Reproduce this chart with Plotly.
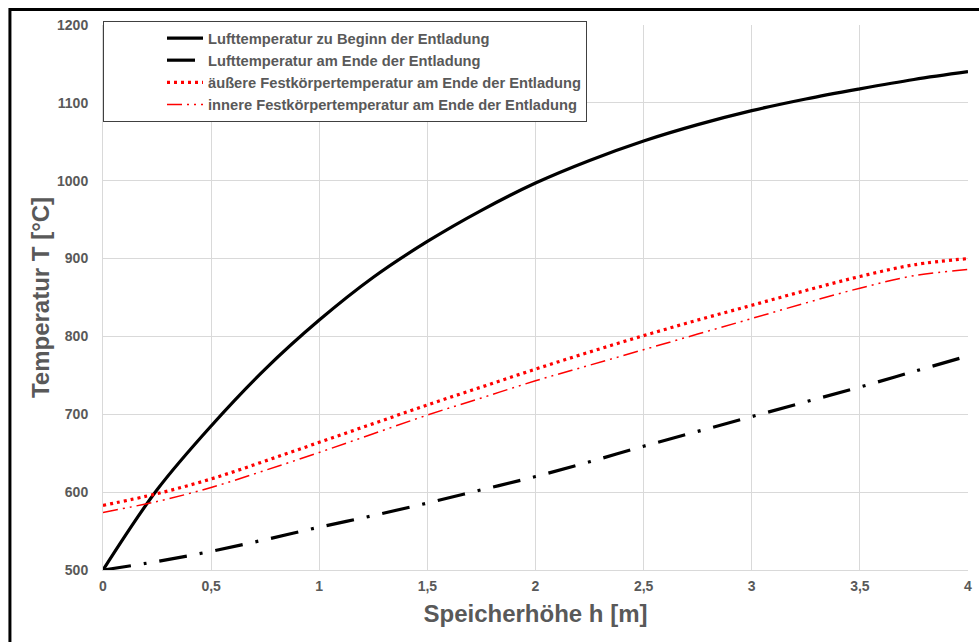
import plotly.graph_objects as go

# Data
h = [0, 0.25, 0.5, 0.75, 1.0, 1.25, 1.5, 1.75, 2.0, 2.25, 2.5, 2.75, 3.0, 3.25, 3.5, 3.75, 4.0]
luft_beginn = [500, 603, 685, 758, 821, 876, 922, 962, 997, 1026, 1051, 1072, 1090, 1105, 1118, 1130, 1140]
luft_ende = [500, 511, 524, 539, 555, 570, 586, 603, 620, 639, 659, 678, 697, 716, 735, 755, 775]
fest_aussen = [583, 598, 617, 640, 664, 688, 712, 735, 758, 780, 801, 821, 840, 859, 877, 892, 900]
fest_innen = [574, 588, 606, 628, 651, 675, 699, 721, 743, 763, 783, 803, 823, 843, 862, 878, 886]

names = [
    "Lufttemperatur zu Beginn der Entladung",
    "Lufttemperatur am Ende der Entladung",
    "äußere Festkörpertemperatur am Ende der Entladung",
    "innere Festkörpertemperatur am Ende der Entladung",
]
x_ticks = [0, 0.5, 1, 1.5, 2, 2.5, 3, 3.5, 4]
y_ticks = [500, 600, 700, 800, 900, 1000, 1100, 1200]

FONT = "Arial, Liberation Sans, sans-serif"
GRAY = "#595959"

L, R_EDGE, T, B_EDGE = 103, 972, 25, 570
W, H = 979, 642
pw, ph = R_EDGE - L, B_EDGE - T

fig = go.Figure()
fig.add_trace(go.Scatter(x=h, y=luft_beginn, name=names[0], mode="lines",
                         line=dict(color="black", width=3.2, shape="spline")))
fig.add_trace(go.Scatter(x=h, y=luft_ende, name=names[1], mode="lines",
                         line=dict(color="black", width=3.2, shape="spline",
                                   dash="28px,13px,3px,13px")))
fig.add_trace(go.Scatter(x=h, y=fest_aussen, name=names[2], mode="lines",
                         line=dict(color="#ff0000", width=3.2, shape="spline",
                                   dash="3px,4px")))
fig.add_trace(go.Scatter(x=h, y=fest_innen, name=names[3], mode="lines",
                         line=dict(color="#ff0000", width=1.5, shape="spline",
                                   dash="15px,5px,2px,5px,2px,5px")))

fig.update_layout(
    width=W, height=H,
    margin=dict(l=L, r=W - R_EDGE, t=T, b=H - B_EDGE),
    paper_bgcolor="white", plot_bgcolor="white",
    separators=",.",
    font=dict(family=FONT, color=GRAY, size=14),
    showlegend=True,
    legend=dict(
        x=0, y=1 + 4 / ph, xanchor="left", yanchor="top",
        bgcolor="white", bordercolor="#404040", borderwidth=1,
        font=dict(family=FONT, size=14.7, color=GRAY, weight="bold"),
        indentation=58,
        itemwidth=36,
        tracegroupgap=0,
    ),
    xaxis=dict(
        range=[0, 4], tickvals=x_ticks,
        showgrid=True, gridcolor="#d9d9d9", gridwidth=1,
        zeroline=False, showline=True, linecolor="#d9d9d9", linewidth=1,
        ticks="outside", ticklen=3, tickcolor="rgba(0,0,0,0)",
        tickfont=dict(family=FONT, size=14, color=GRAY, weight="bold"),
        title=dict(text="Speicherhöhe h [m]", standoff=12,
                   font=dict(family=FONT, size=24, color=GRAY, weight="bold")),
    ),
    yaxis=dict(
        range=[500, 1200], tickvals=y_ticks,
        showgrid=True, gridcolor="#d9d9d9", gridwidth=1,
        zeroline=False, showline=True, linecolor="#d9d9d9", linewidth=1,
        ticks="outside", ticklen=11, tickcolor="rgba(0,0,0,0)",
        tickfont=dict(family=FONT, size=14, color=GRAY, weight="bold"),
        title=dict(text="Temperatur T [°C]", standoff=0,
                   font=dict(family=FONT, size=24, color=GRAY, weight="bold")),
    ),
)

# Outer chart frame (thick black border; right/bottom edges lie outside the view)
def px_to_paper_x(px):
    return (px - L) / pw
def px_to_paper_y(py):
    return (B_EDGE - py) / ph

fig.add_shape(type="rect", xref="paper", yref="paper",
              x0=px_to_paper_x(9.5), x1=px_to_paper_x(1000),
              y0=px_to_paper_y(700), y1=px_to_paper_y(9.5),
              line=dict(color="black", width=3), fillcolor="rgba(0,0,0,0)",
              layer="above")

fig.write_html(
    "out.html",
    config={"displayModeBar": False},
    post_script="document.body.style.margin='0';document.body.style.overflow='hidden';",
)
